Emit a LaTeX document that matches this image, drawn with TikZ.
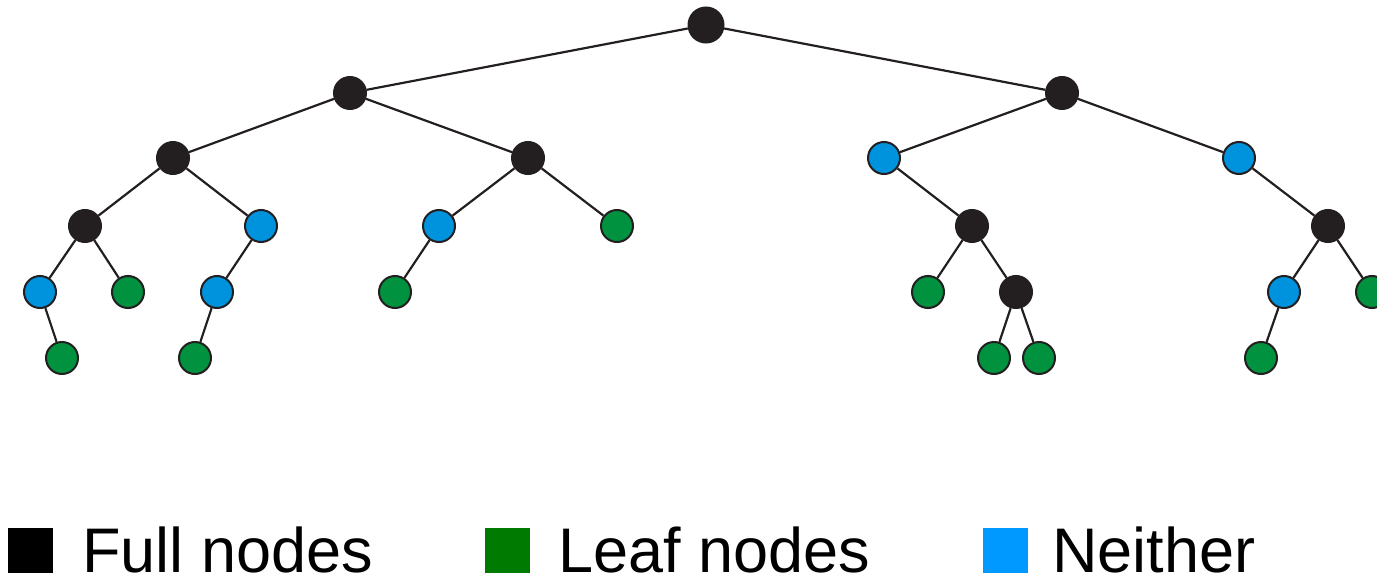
\documentclass[tikz,border=0pt]{standalone}
\usepackage{fontspec}
\setmainfont{Liberation Sans}
\definecolor{fullc}{HTML}{231F20}
\definecolor{leafc}{HTML}{00923F}
\definecolor{neitherc}{HTML}{0093DD}
\definecolor{legfull}{HTML}{000000}
\definecolor{legleaf}{HTML}{007A00}
\definecolor{legneither}{HTML}{0099FF}
\tikzset{
  vtx/.style={circle, draw=fullc, line width=2pt, minimum size=32pt, inner sep=0pt},
  fullv/.style={vtx, fill=fullc},
  leafv/.style={vtx, fill=leafc},
  neitherv/.style={vtx, fill=neitherc},
  edge/.style={draw=fullc, line width=2.2pt},
  legbox/.style={minimum size=45pt, inner sep=0pt, anchor=south west},
  legtext/.style={anchor=base west, inner sep=0pt, text depth=0pt,
    font=\fontsize{63}{70}\selectfont}
}
\begin{document}
\begin{tikzpicture}[x=1pt,y=-1pt]
\useasboundingbox (0,0) rectangle (1377,578);
% level 0
\node[fullv, minimum size=35pt] (r) at (706,25) {};
% level 1
\node[fullv] (a) at (350,93) {};
\node[fullv] (b) at (1062,93) {};
% level 2
\node[fullv] (a1) at (173,158) {};
\node[fullv] (a2) at (528,158) {};
\node[neitherv] (b1) at (884,158) {};
\node[neitherv] (b2) at (1239,158) {};
% level 3
\node[fullv] (a11) at (85,226) {};
\node[neitherv] (a12) at (261,226) {};
\node[neitherv] (a21) at (439,226) {};
\node[leafv] (a22) at (617,226) {};
\node[fullv] (b11) at (972,226) {};
\node[fullv] (b21) at (1328,226) {};
% level 4
\node[neitherv] (a111) at (40,292) {};
\node[leafv] (a112) at (128,292) {};
\node[neitherv] (a121) at (217,292) {};
\node[leafv] (a211) at (395,292) {};
\node[leafv] (b111) at (928,292) {};
\node[fullv] (b112) at (1016,292) {};
\node[neitherv] (b211) at (1284,292) {};
\node[leafv] (b212) at (1372,292) {};
% level 5
\node[leafv] (a1111) at (62,358) {};
\node[leafv] (a1211) at (195,358) {};
\node[leafv] (b1121) at (994,358) {};
\node[leafv] (b1122) at (1039,358) {};
\node[leafv] (b2111) at (1261,358) {};
% edges between parent and child
\foreach \p/\c in {r/a, r/b, a/a1, a/a2, b/b1, b/b2,
  a1/a11, a1/a12, a2/a21, a2/a22, b1/b11, b2/b21,
  a11/a111, a11/a112, a12/a121, a21/a211, b11/b111, b11/b112,
  b21/b211, b21/b212, a111/a1111, a121/a1211, b112/b1121, b112/b1122,
  b211/b2111}
  \draw[edge] (\p) -- (\c);
% legend
\node[legbox, fill=legfull] (k1) at (8,573) {};
\node[legtext] (t1) at (82,572) {Full nodes};
\node[legbox, fill=legleaf] (k2) at (485,573) {};
\node[legtext] (t2) at (558,572) {Leaf nodes};
\node[legbox, fill=legneither] (k3) at (983,573) {};
\node[legtext] (t3) at (1052,572) {Neither};
\end{tikzpicture}
\end{document}
